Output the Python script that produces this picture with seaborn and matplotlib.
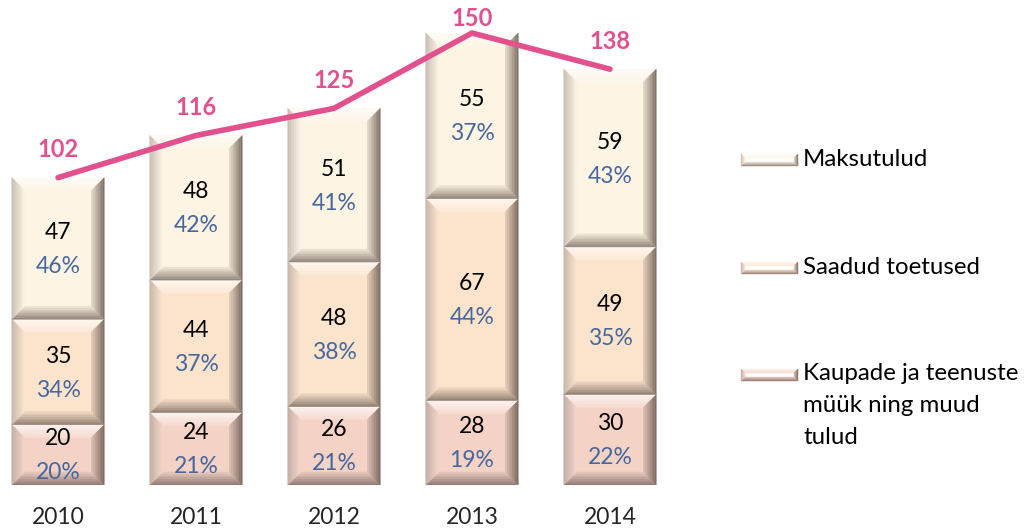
import numpy as np
import pandas as pd
import seaborn as sns
import matplotlib
matplotlib.use("Agg")
import matplotlib.pyplot as plt
from matplotlib.patches import Polygon
from matplotlib.colors import to_rgb

years = ["2010", "2011", "2012", "2013", "2014"]
sales = [20, 24, 26, 28, 30]            # Kaupade ja teenuste müük ning muud tulud
grants = [35, 44, 48, 67, 49]           # Saadud toetused
taxes = [47, 48, 51, 55, 59]            # Maksutulud
totals = [102, 116, 125, 150, 138]
sales_pct = ["20%", "21%", "21%", "19%", "22%"]
grants_pct = ["34%", "37%", "38%", "44%", "35%"]
taxes_pct = ["46%", "42%", "41%", "37%", "43%"]
series_names = ["Maksutulud", "Saadud toetused", "Kaupade ja teenuste\nmüük ning muud\ntulud"]

col_tax = "#FDF4E3"
col_grant = "#FCE3CC"
col_sales = "#F4D2C6"
pink = "#E2508D"
blue = "#46679E"

sns.set_theme(style="white")
plt.rcParams['font.family'] = ['Lato', 'DejaVu Sans']

W, H = 1024, 528
fig = plt.figure(figsize=(W / 100, H / 100), dpi=100)
ax = fig.add_axes([0, 1 - 485 / H, 680 / W, 485 / H])

df = pd.DataFrame({"year": years, "sales": sales, "grants": grants, "taxes": taxes})
b1 = np.array(sales)
b2 = b1 + np.array(grants)
sns.barplot(data=df, x="year", y="sales", color=col_sales, width=0.67, ax=ax, edgecolor="none", saturation=1)
sns.barplot(data=df, x="year", y="grants", bottom=b1, color=col_grant, width=0.67, ax=ax, edgecolor="none", saturation=1)
sns.barplot(data=df, x="year", y="taxes", bottom=b2, color=col_tax, width=0.67, ax=ax, edgecolor="none", saturation=1)

xpx_per_unit = 138.0
ax.set_xlim(-58 / xpx_per_unit, (680 - 58) / xpx_per_unit)
ypx_per_unit = 452 / 150
ymax = 485 / ypx_per_unit
ax.set_ylim(0, ymax)


def mix(c1, c2, t):
    a = np.array(to_rgb(c1)); b = np.array(to_rgb(c2))
    return tuple(a * (1 - t) + b * t)


def bevel(axis, x0, y0, x1, y1, dx, dy, base, n=8, z=3):
    O = [(x0, y0), (x1, y0), (x1, y1), (x0, y1)]
    I = [(x0 + dx, y0 + dy), (x1 - dx, y0 + dy), (x1 - dx, y1 - dy), (x0 + dx, y1 - dy)]
    facets = [
        ((3, 2), mix(base, "#ffffff", 0.75), mix(base, "#ffffff", 0.2)),   # top
        ((2, 1), mix(base, "#5a4a42", 0.8), mix(base, "#8a7a70", 0.2)),    # right
        ((1, 0), mix(base, "#5e5048", 0.7), mix(base, "#8a7a70", 0.1)),    # bottom
        ((0, 3), mix(base, "#9a8e88", 0.55), mix(base, "#ffffff", 0.1)),   # left
    ]
    for (a, b), cout, cin in facets:
        oa, ob = np.array(O[a]), np.array(O[b])
        ia, ib = np.array(I[a]), np.array(I[b])
        for k in range(n):
            t0, t1 = k / n, (k + 1) / n
            pts = [oa + (ia - oa) * t0, ob + (ib - ob) * t0, ob + (ib - ob) * t1, oa + (ia - oa) * t1]
            c = mix(cout, cin, (k + 0.5) / n)
            axis.add_patch(Polygon(pts, closed=True, facecolor=c, edgecolor=c, lw=0.3, zorder=z))


dxu = 13 / xpx_per_unit
dyu = 13 / ypx_per_unit
for p, base in zip(ax.patches[:15], [col_sales] * 5 + [col_grant] * 5 + [col_tax] * 5):
    x0, y0 = p.get_x(), p.get_y()
    x1, y1 = x0 + p.get_width(), y0 + p.get_height()
    bevel(ax, x0, y0, x1, y1, dxu, dyu, base)

# segment labels
xs = np.arange(len(years))
for vals, pcts, bottoms in [(sales, sales_pct, np.zeros(5)), (grants, grants_pct, b1), (taxes, taxes_pct, b2)]:
    for i in range(5):
        yc = bottoms[i] + vals[i] / 2
        ax.annotate(str(vals[i]), (xs[i], yc), xytext=(0, 11.5), textcoords="offset points",
                    ha="center", va="center", fontsize=16.5, color="black", zorder=6)
        ax.annotate(pcts[i], (xs[i], yc), xytext=(0, -13), textcoords="offset points",
                    ha="center", va="center", fontsize=16.5, color=blue, zorder=6)

# total line
sns.lineplot(x=xs, y=totals, ax=ax, color=pink, lw=4, zorder=7, solid_capstyle="round")
for i in range(5):
    ly = min(totals[i] + 28 / ypx_per_unit, ymax - 18 / ypx_per_unit)
    ax.text(xs[i], ly, str(totals[i]), ha="center", va="center", fontsize=17,
            fontweight="bold", color=pink, zorder=8)

ax.set_xlabel(""); ax.set_ylabel("")
ax.set_yticks([])
ax.set_xticks(xs)
ax.set_xticklabels(years, fontsize=16.5)
ax.tick_params(axis="x", length=0, pad=16)
for s in ax.spines.values():
    s.set_visible(False)
ax.patch.set_alpha(0)

# legend (pixel-coordinate overlay)
lax = fig.add_axes([0, 0, 1, 1])
lax.set_xlim(0, W); lax.set_ylim(H, 0)
lax.axis("off")
leg_y = [160, 268, 375]
for name, base, yy in zip(series_names, [col_tax, col_grant, col_sales], leg_y):
    bevel(lax, 741, yy + 6, 798, yy - 6, 4, -4, base, n=4)
    for j, line in enumerate(name.split("\n")):
        lax.text(803, yy - 1 + j * 31.5, line, ha="left", va="center", fontsize=17.3, color="black")

fig.savefig("out.png", dpi=100)
